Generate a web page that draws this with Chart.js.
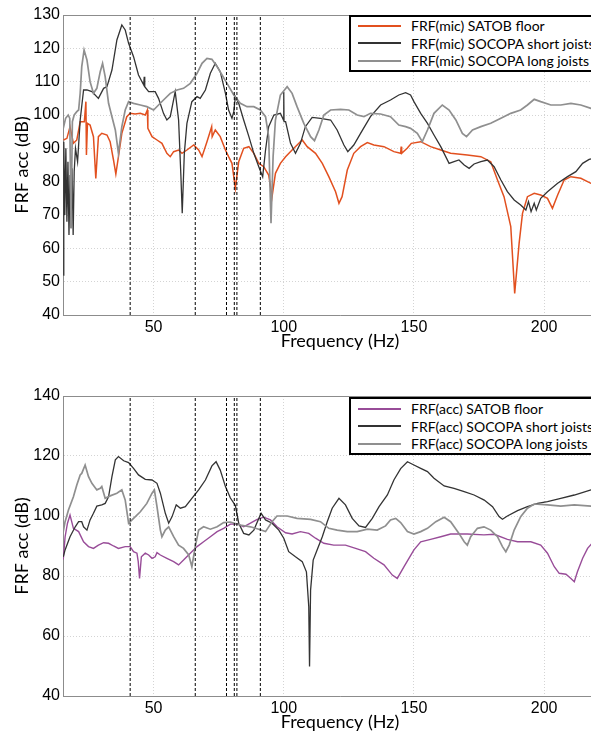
<!DOCTYPE html>
<html>
<head>
<meta charset="utf-8">
<script src="https://cdn.jsdelivr.net/npm/chart.js@4.4.0/dist/chart.umd.min.js"></script>
<style>
html, body { margin: 0; padding: 0; background: #fff; overflow: hidden; width: 591px; height: 731px; }
.panel { position: absolute; left: 0; width: 622px; height: 365px; }
.panel canvas { display: block; }
.legend { position: absolute; left: 349px; background: #fff; border: 2px solid #000;
  font-family: Lato, sans-serif; font-size: 14px; color: #000; padding: 0 14px 0 7px; white-space: nowrap; }
.legend .row { display: flex; align-items: center; height: 17.5px; }
.legend .swatch { width: 43px; height: 0; border-top: 2px solid; margin-right: 10px; }
</style>
</head>
<body>
<div class="panel" style="top:0px"><canvas id="micChart" width="622" height="365"></canvas><div class="legend" id="micLegend" style="top:15px"></div></div>
<div class="panel" style="top:381px"><canvas id="accChart" width="622" height="365"></canvas><div class="legend" id="accLegend" style="top:16px;padding-top:1px"></div></div>
<script>
const X_MIN = 15.2;
const X_MAX = 228;
const xTicks = [50, 100, 150, 200];
const yTicksMic = [40, 50, 60, 70, 80, 90, 100, 110, 120, 130];
const yTicksAcc = [40, 60, 80, 100, 120, 140];
const dashFreqs = [41, 66, 78, 81, 82, 91];

const micLabels = ['FRF(mic) SATOB floor', 'FRF(mic) SOCOPA short joists', 'FRF(mic) SOCOPA long joists'];
const accLabels = ['FRF(acc) SATOB floor', 'FRF(acc) SOCOPA short joists', 'FRF(acc) SOCOPA long joists'];

// --- top panel: microphone FRF ---
const satobMicF = [15.4, 16.7, 17.9, 19.2, 20.5, 21.8, 23.4, 24.0, 24.2, 24.6, 25.6, 26.9, 27.8, 28.8, 30.1, 32.1, 33.3, 34.6, 35.5, 36.5,
  37.8, 39.7, 41.0, 42.9, 44.9, 46.8, 47.6, 47.8, 49.4, 51.3, 53.2, 55.1, 56.4, 57.7, 59.6, 60.9, 62.8, 65.4, 67.3, 68.6,
  70.5, 72.3, 72.5, 73.7, 75.6, 77.6, 78.8, 80.1, 81.4, 82.7, 84.6, 86.6, 88.5, 90.4, 92.3, 94.2, 95.5, 96.8, 98.7, 100.7,
  103.2, 105.8, 107.1, 109, 112.2, 114.8, 117.3, 119.9, 121.2, 122.4, 124.4, 126.9, 129.5, 132.1, 134.6, 138.5, 142.3, 144.9, 145.1, 145.3,
  147.4, 149, 152.6, 156.4, 160.3, 164.1, 170.5, 175.7, 179.5, 182.1, 184.6, 187.2, 188.7, 190.4, 191.7, 193.6, 196.2, 198.7, 201.3, 203.2,
  205.2, 207.7, 210.3, 214.1, 218, 219];
const satobMicDb = [92.5, 93, 96.5, 91.5, 92.5, 98, 98, 104, 88, 97.5, 97, 93.5, 81, 93.5, 94.5, 94, 92, 86.5, 82.3, 87.5,
  94.5, 99.5, 100.5, 100.3, 100.5, 100, 101.5, 96, 93.5, 92.5, 91.5, 88.5, 87.5, 89, 89.5, 88.5, 89.5, 91, 89.5, 87.5,
  92, 96.5, 93.5, 95.5, 93.5, 89.5, 87.5, 85.5, 78, 86, 90, 90.5, 88.5, 85.5, 84.5, 82, 75.5, 82.5, 85.5, 87.5,
  89.5, 91.5, 92.5, 90.5, 88.5, 85.5, 81.5, 77, 73.5, 75.5, 83.5, 88.5, 90.5, 91.7, 91, 90.5, 89, 88.5, 90.5, 88.5,
  90, 91.5, 92, 90.5, 89.5, 88.5, 88, 87.5, 86, 80.5, 75.5, 66.5, 46.5, 61.5, 70.5, 75.5, 76.5, 76, 75, 72,
  76, 80.5, 81.5, 81, 79.5, 79.5];

const shortMicF = [15.3, 15.5, 15.9, 16.3, 16.7, 17.1, 17.5, 17.9, 18.3, 18.7, 19.1, 19.5, 20.0, 20.8, 21.8, 23.1, 24.4, 26.3, 28.8, 30.8,
  32.1, 34, 35.9, 37.8, 39.1, 40.4, 42.3, 44.2, 46.2, 46.4, 46.6, 48.1, 50.6, 51.9, 53.8, 55.1, 56.4, 58.3, 59.6, 60.5,
  61.0, 61.8, 62.8, 64.7, 66.7, 67.9, 69.9, 71.8, 73.7, 75.6, 77.6, 78.8, 80.1, 80.8, 81.4, 82.7, 84.6, 86.6, 88.5, 90.4,
  91.9, 93, 94.2, 96.2, 98.7, 99.9, 100.0, 100.1, 100.7, 102.6, 104.5, 106.4, 108.3, 110.9, 114.1, 118, 120.5, 123.1, 124.6, 126.9,
  129.5, 133.3, 137.2, 141, 144.2, 146.8, 148.7, 150, 152.6, 155.2, 157.7, 160.3, 163.5, 165.4, 167.3, 169.3, 171.2, 173.1, 175.7, 178.2,
  180.8, 183.4, 185.9, 188.5, 191, 193, 194, 195, 196.2, 197, 198.7, 201.3, 205.2, 209, 212.2, 214.8, 217.3, 219];
const shortMicDb = [52, 92, 70, 90, 68, 86, 64, 82, 66, 84, 64, 83, 90, 86, 98.5, 107.5, 107.5, 107, 105, 108,
  108.5, 113.5, 122.5, 127, 125.5, 121.5, 117.5, 112, 109, 111.5, 108.5, 107, 107, 105, 100.5, 98.5, 99.5, 107, 98.5, 81.5,
  70.5, 88.5, 97.5, 104, 105.5, 105, 107.5, 112.5, 115.5, 113, 106.5, 101.5, 99, 101, 105.5, 103.5, 98.5, 93.5, 88.5, 84.5,
  81.5, 89.5, 96.5, 100, 100.5, 98.5, 107, 98, 98, 91.5, 88.5, 91.5, 96.5, 99.3, 99, 98.5, 95.5, 91, 89, 91,
  94.5, 99.5, 103, 104.5, 106, 106.7, 106, 104, 100.5, 97.5, 94, 90.5, 85.5, 86, 86.5, 85, 84, 85.3, 86, 86.5,
  84.5, 80.5, 77, 74.5, 73, 71.5, 74, 71, 73.5, 71.5, 75, 77, 79.5, 81.5, 83, 85.5, 86.7, 87];

const longMicF = [15.3, 16.2, 17.2, 17.8, 18.3, 18.8, 19.5, 20.5, 21.2, 21.8, 22.4, 23.3, 24.4, 25.6, 26.9, 28.2, 29.5, 30.4, 31.4, 32.7,
  34, 35.3, 36.5, 37.8, 39.1, 40.4, 42.3, 44.9, 47.4, 50, 51.9, 53.8, 56.4, 59, 61.5, 64.1, 66.7, 68.6, 70.5, 72.4,
  74.4, 76.3, 78.2, 80.8, 83.3, 85.9, 88.5, 91, 93, 94.2, 95.1, 95.9, 96.8, 98.7, 101.3, 103.2, 105.1, 107.7, 110.3, 111.8,
  113.5, 115.4, 118, 121.8, 125, 128.2, 130.8, 133.3, 137.2, 141, 144.2, 146.8, 148.7, 151.3, 153.2, 155.2, 157.7, 160.9, 163.5, 166.1,
  168.6, 170.2, 172.5, 175.7, 179.5, 183.4, 187.2, 191, 193.6, 196.2, 198.7, 202.6, 206.4, 210.3, 214.1, 218, 219];
const longMicDb = [96, 99, 100, 99, 66, 98, 100, 101, 101.5, 106.5, 114.5, 119.5, 116.5, 110, 106.5, 108, 113, 115.5, 111.5, 103.5,
  99.5, 95.5, 88.5, 96.5, 101.5, 104, 103.5, 103, 102.5, 101.5, 103, 104.5, 106.5, 107.5, 108, 109.5, 112.5, 115.5, 117, 116.7,
  114.5, 112, 109.5, 106, 103.5, 102.5, 102.5, 101.5, 99.5, 93.5, 67.5, 87.5, 98.5, 106, 108.5, 106.5, 102.5, 97.5, 93.5, 92.3,
  95.5, 100, 101.5, 101.7, 101.5, 100, 99.5, 100.5, 100.3, 99.5, 97, 96.5, 96, 94.5, 92, 95.5, 100.5, 103, 101.5, 98.5,
  94.5, 93.5, 95.5, 96.5, 97.5, 99, 100.5, 101.5, 103, 104.7, 104, 103, 103, 103.5, 103, 102, 101.8];

// --- bottom panel: accelerometer FRF ---
const satobAccF = [15.3, 16, 16.9, 17.9, 19.2, 21.2, 23.1, 25, 26.9, 28.8, 30.8, 32.7, 34.6, 36.5, 39.1, 41, 42.3, 43.6, 44.1, 44.6,
  45.3, 46.8, 48.1, 49.4, 50.6, 51.3, 52.6, 55.1, 57.7, 59.6, 61.5, 64.1, 66.7, 69.2, 71.8, 74.4, 76.9, 79.5, 82.1, 84.6,
  87.2, 89.8, 92.3, 94.9, 97.4, 100.7, 103.2, 106.4, 109.6, 112.2, 115.4, 119.2, 123.7, 127.6, 131.4, 134.6, 138.5, 141.7, 143.6, 146.2,
  148.7, 150, 152.6, 156.4, 160.3, 164.1, 170.5, 176.9, 180.8, 185.9, 189.8, 194.9, 198.7, 201.3, 203.9, 205.8, 208.4, 210.3, 211.6, 212.8,
  214.8, 216.7, 218.4, 219];
const satobAccDb = [85.5, 93, 97.5, 100.3, 95.9, 94.8, 91.4, 89.8, 89.2, 90.3, 91.1, 90.9, 90, 89.2, 89.8, 89.8, 88.1, 87.6, 84.8, 79.2,
  86.4, 87.6, 87, 85.9, 86.4, 87.8, 87, 85.9, 84.8, 83.7, 85.3, 87.6, 89.8, 91.4, 93.1, 94.8, 95.9, 97.3, 97.4, 96.4,
  97.6, 98.9, 99.6, 98.7, 96.4, 94.4, 94, 94.8, 94.2, 92.6, 90.9, 90.3, 90.3, 89.2, 88.1, 85.9, 83.7, 80.3, 79.2, 83.1,
  86.8, 88.7, 91.4, 92.2, 93.1, 94, 94, 93.7, 93.9, 92.2, 91.4, 91.4, 90.3, 87.6, 83.1, 80.9, 80.6, 79.2, 78.1, 81.4,
  85.9, 89.2, 90.9, 91];

const shortAccF = [15.3, 16, 17.9, 19.9, 21.2, 22.4, 23.1, 24.4, 25.6, 26.9, 28.2, 30.1, 31.4, 32.7, 34, 35.3, 36.5, 38.5, 40.4, 42.3,
  44.2, 46.8, 49.4, 51.3, 52.6, 54.5, 55.8, 57.1, 58.7, 60.3, 62.2, 64.7, 67.3, 69.9, 72.4, 74, 75.6, 77.6, 79.5, 81.4,
  82.7, 84.6, 86.6, 88.5, 90.4, 91.3, 93, 95.5, 98.1, 100, 101.9, 104.5, 107.1, 108.7, 109.6, 109.9, 110.3, 111.3, 112.8, 114.8,
  116.7, 118.6, 121.2, 123.7, 126.3, 128.9, 131.4, 134, 136.6, 139.8, 142.3, 144.9, 147.5, 150, 152.6, 155.2, 157.7, 161.6, 165.4, 169.3,
  173.1, 177, 180.2, 182.7, 184, 185.9, 189.8, 193.6, 197.5, 201.3, 206.4, 211.6, 218, 219];
const shortAccDb = [86.4, 88.7, 93.1, 96.4, 98.1, 98.1, 96.4, 95.3, 98.7, 100.9, 103.3, 103.7, 104.2, 106.4, 113.1, 118.7, 119.8, 118.4, 117.8, 115.9,
  113.7, 112.2, 112, 110.9, 107.6, 100.9, 97.6, 99.8, 103.7, 102.6, 103.1, 105.9, 108.7, 112, 116.7, 118.1, 115.3, 109.8, 106, 103.5,
  97.6, 94.2, 93.7, 95.3, 99.2, 100.9, 98.7, 97.6, 95.3, 92.6, 88.1, 86.4, 84.8, 81.4, 69.8, 49.8, 75.3, 85.3, 88.7, 93.1,
  98.1, 102.6, 105.9, 103.7, 99.2, 96.7, 96.2, 99.2, 103.1, 107, 112, 115.8, 118.1, 117, 115.9, 114.8, 112.6, 110, 109.2, 108.1,
  107, 105.3, 103.1, 99.8, 98.9, 100, 101.8, 103.1, 104.2, 104.8, 105.9, 107, 108.7, 108.8];

const longAccF = [15.3, 16, 17.3, 19.2, 20.5, 21.8, 22.4, 23.7, 25, 26.3, 28.2, 29.5, 30.1, 31.4, 33.3, 35.9, 37.8, 39.1, 40.4, 42.3,
  44.9, 47.4, 49.4, 50.3, 51.3, 52.6, 53.2, 54.5, 55.8, 57.7, 59.6, 61.5, 63.5, 64.7, 66, 67.3, 69.2, 71.8, 74.4, 76.9,
  79.5, 83.3, 87.2, 90.4, 93, 95.5, 97.4, 101.3, 105.1, 110.3, 114.1, 117.3, 120.5, 124.4, 128.2, 132.1, 135.9, 139.1, 141, 143,
  144.9, 147.5, 150, 152.6, 155.2, 158.4, 161.6, 164.1, 167.3, 169.3, 170.5, 171.8, 174.4, 176.9, 179.5, 182.1, 184, 185.3, 186.6, 188.5,
  191, 193.6, 196.2, 201.3, 206.4, 211.6, 218, 219];
const longAccDb = [94.8, 98.1, 102, 106.4, 110.3, 113.7, 114.2, 117, 113.1, 110.9, 108.7, 109.2, 109.8, 105.9, 106.7, 107.6, 108.7, 105.3, 97.6, 99.2,
  101.4, 104.2, 107.6, 108.7, 103.1, 95.3, 93.1, 95.3, 96.4, 93.1, 90.3, 89.2, 87, 83.1, 89.8, 95.3, 96.4, 95.6, 96.4, 97.8,
  98, 97, 96.4, 95.6, 94.8, 98.1, 100, 100, 99.2, 98.9, 98.1, 95.9, 95.3, 94.8, 94.8, 95.6, 95.3, 96.7, 98.7, 99.2,
  97.8, 94.8, 94, 94.8, 95.9, 98.1, 99.6, 98.1, 94.2, 91.4, 90.3, 93.1, 95.9, 96.4, 95.3, 93.1, 89.8, 88.1, 90.3, 95.3,
  99.8, 102.6, 104, 103.7, 103.3, 103.7, 103.3, 103.3];

const ORANGE = '#e2501f';
const PURPLE = '#984c98';
const DARK = '#333333';
const GREY = '#8f8f8f';

function toPoints(fs, vs) {
    return fs.map((f, i) => ({ x: f, y: vs[i] }));
}

function seriesDataset(label, fs, vs, color, width, order) {
    return {
        label: label,
        data: toPoints(fs, vs),
        borderColor: color,
        backgroundColor: color,
        borderWidth: width,
        pointRadius: 0,
        tension: 0,
        fill: false,
        order: order
    };
}

// vertical dashed markers, spanning the whole y range
function markerDatasets(yTicks) {
    const lo = yTicks[0], hi = yTicks[yTicks.length - 1];
    return dashFreqs.map(f => ({
        label: '',
        marker: true,
        data: [{ x: f, y: lo }, { x: f, y: hi }],
        borderColor: '#000',
        borderWidth: 1,
        borderDash: [3, 2],
        pointRadius: 0,
        order: 0
    }));
}

// plot frame top line (matlab box)
const framePlugin = {
    id: 'frame',
    afterDraw(chart) {
        const { ctx, chartArea } = chart;
        ctx.save();
        ctx.strokeStyle = '#8c8c8c';
        ctx.lineWidth = 1;
        ctx.beginPath();
        ctx.moveTo(chartArea.left, chartArea.top + 0.5);
        ctx.lineTo(chartArea.right, chartArea.top + 0.5);
        ctx.lineTo(chartArea.right - 0.5, chartArea.bottom);
        ctx.stroke();
        ctx.restore();
    }
};

const tickFont = { family: "'Liberation Sans', Arial, sans-serif", size: 16 };
const titleFont = { family: 'Lato, sans-serif', size: 18 };

function panelOptions(yTicks) {
    return {
        responsive: false,
        animation: false,
        layout: { padding: { left: 0, top: 15, right: 5, bottom: 0 } },
        plugins: { legend: { display: false }, tooltip: { enabled: false } },
        scales: {
            x: {
                type: 'linear', min: X_MIN, max: X_MAX,
                afterFit: s => { s.height = 50; },
                afterBuildTicks: s => { s.ticks = xTicks.map(v => ({ value: v })); },
                grid: { color: '#d4d4d4', drawTicks: false },
                border: { color: '#8c8c8c', dash: [1, 2] },
                ticks: { padding: 3, color: '#000', maxRotation: 0, font: tickFont },
                title: {
                    display: true, text: 'Frequency (Hz)', color: '#000',
                    font: titleFont,
                    padding: { top: 0, bottom: 13 }
                }
            },
            y: {
                type: 'linear', min: yTicks[0], max: yTicks[yTicks.length - 1],
                afterFit: s => { s.width = 63; },
                afterBuildTicks: s => { s.ticks = yTicks.map(v => ({ value: v })); },
                grid: { color: '#d4d4d4', drawTicks: false },
                border: { color: '#8c8c8c', dash: [1, 2] },
                ticks: { padding: 3, color: '#000', font: tickFont },
                title: {
                    display: true, text: 'FRF acc (dB)', color: '#000',
                    font: titleFont,
                    padding: { top: 11, bottom: 0 }
                }
            }
        }
    };
}

function buildLegend(el, chart) {
    chart.data.datasets.filter(d => !d.marker).forEach(d => {
        const row = document.createElement('div');
        row.className = 'row';
        const sw = document.createElement('span');
        sw.className = 'swatch';
        sw.style.borderTopColor = d.borderColor;
        const txt = document.createElement('span');
        txt.innerText = d.label;
        row.appendChild(sw);
        row.appendChild(txt);
        el.appendChild(row);
    });
}

const micChart = new Chart(document.getElementById('micChart'), {
    type: 'line',
    data: {
        datasets: [
            seriesDataset(micLabels[0], satobMicF, satobMicDb, ORANGE, 1.5, 3),
            seriesDataset(micLabels[1], shortMicF, shortMicDb, DARK, 1.3, 2),
            seriesDataset(micLabels[2], longMicF, longMicDb, GREY, 1.7, 1)
        ].concat(markerDatasets(yTicksMic))
    },
    options: panelOptions(yTicksMic),
    plugins: [framePlugin]
});

const accChart = new Chart(document.getElementById('accChart'), {
    type: 'line',
    data: {
        datasets: [
            seriesDataset(accLabels[0], satobAccF, satobAccDb, PURPLE, 1.4, 3),
            seriesDataset(accLabels[1], shortAccF, shortAccDb, DARK, 1.3, 2),
            seriesDataset(accLabels[2], longAccF, longAccDb, GREY, 1.7, 1)
        ].concat(markerDatasets(yTicksAcc))
    },
    options: panelOptions(yTicksAcc),
    plugins: [framePlugin]
});

buildLegend(document.getElementById('micLegend'), micChart);
buildLegend(document.getElementById('accLegend'), accChart);
</script>
</body>
</html>
